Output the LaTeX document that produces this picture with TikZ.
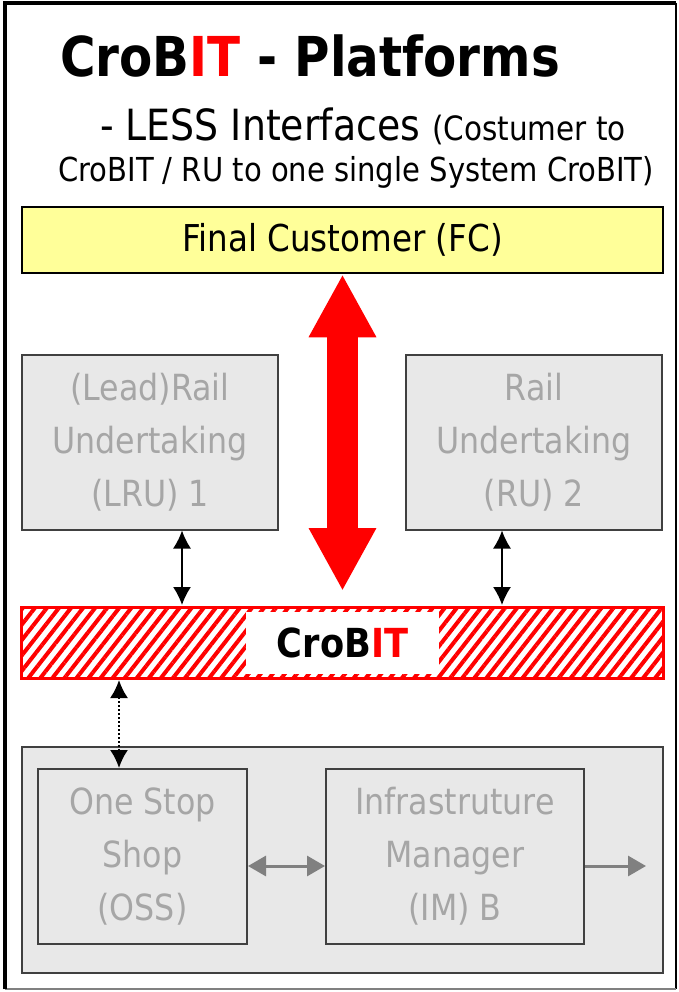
\documentclass[tikz,border=0pt]{standalone}
\usepackage{fontspec}
\setmainfont[FakeStretch=0.88]{DejaVu Sans}
\usetikzlibrary{arrows.meta,patterns.meta}
\definecolor{fcgelb}{HTML}{FFFF99}
\definecolor{boxgrau}{HTML}{E8E8E8}
\definecolor{textgrau}{HTML}{A6A6A6}
\definecolor{randgrau}{HTML}{404040}
\definecolor{pfeilgrau}{HTML}{808080}
\begin{document}
\begin{tikzpicture}[x=1pt, y=-1pt, >={Latex[length=18pt,width=18pt]},
  kasten/.style={draw=randgrau, line width=2pt, fill=boxgrau, text=textgrau,
    align=center, inner sep=0pt, font=\fontsize{36}{53}\selectfont},
  grauerpfeil/.style={pfeilgrau, line width=3pt, arrows={-Triangle[length=18pt,width=20pt]}},
  ]
\useasboundingbox (0,0) rectangle (678,992);
   %Rahmen
\draw[line width=1.5pt] (676,3) -- (676,989);
\draw[line width=1.5pt, gray] (5,989) -- (676,989);
\draw[line width=4pt] (5,989) -- (5,3) -- (676,3);
%Titel
\node[anchor=base west, inner sep=0pt, font=\fontsize{55}{55}\selectfont\bfseries] (titel) at (60,77)
  {CroB\textcolor{red}{IT} - Platforms};
\node[anchor=base west, inner sep=0pt, font=\fontsize{43}{43}\selectfont] (zeile1) at (100,141)
  {- LESS Interfaces {\fontsize{33.5}{33.5}\selectfont (Costumer to}};
\node[anchor=base west, inner sep=0pt, font=\fontsize{33}{33}\selectfont] (zeile2) at (58,182)
  {CroBIT / RU to one single System CroBIT)};
%Kunde
\node[draw, line width=2.5pt, fill=fcgelb, minimum width=641pt, minimum height=66pt,
  font=\fontsize{37}{37}\selectfont] (fc) at (342.5,240) {Final Customer (FC)};
%Eisenbahnen
\node[kasten, minimum width=256pt, minimum height=175pt] (lru) at (150,442)
  {(Lead)Rail\\Undertaking\\(LRU) 1};
\node[kasten, minimum width=256pt, minimum height=175pt] (ru) at (534,442)
  {Rail\\Undertaking\\(RU) 2};
%CroBIT Balken
\node[draw=red, line width=3pt, minimum width=642pt, minimum height=71pt,
  pattern={Lines[angle=52,distance=9.5pt,line width=4pt]}, pattern color=red] (bar) at (342.5,642.5) {};
\node[fill=white, minimum width=193pt, minimum height=62pt,
  font=\fontsize{40}{40}\selectfont\bfseries] (crobit) at (bar) {CroB\textcolor{red}{IT}};
%Plattform unten
\node[kasten, minimum width=641pt, minimum height=226pt] (unten) at (342.5,860) {};
\node[kasten, minimum width=209pt, minimum height=175pt] (oss) at (142.5,856.5)
  {One Stop\\Shop\\(OSS)};
\node[kasten, minimum width=258pt, minimum height=175pt] (im) at (455,856.5)
  {Infrastruture\\Manager\\(IM) B};
\coordinate (aus) at (646,866);
%Pfeile
\draw[red, line width=31pt, {Triangle[length=63pt,width=63pt]}-{Triangle[length=63pt,width=63pt]}]
  (fc.south) -- ([yshift=14pt]fc.south |- bar.north);
\draw[line width=1.6pt, <->] ([xshift=32pt]lru.south) -- ([xshift=32pt]lru.south |- bar.north);
\draw[line width=1.6pt, <->] ([xshift=-32pt]ru.south) -- ([xshift=-32pt]ru.south |- bar.north);
\draw[line width=2pt, dotted, <->] ([xshift=-23.5pt]oss.north |- bar.south) -- ([xshift=-23.5pt]oss.north);
\draw[grauerpfeil, arrows={Triangle[length=18pt,width=20pt]-Triangle[length=18pt,width=20pt]}]
  ([yshift=-9.5pt]oss.east) -- ([yshift=-9.5pt]im.west);
\draw[grauerpfeil] ([yshift=-9.5pt]im.east) -- (aus);
\end{tikzpicture}
\end{document}
